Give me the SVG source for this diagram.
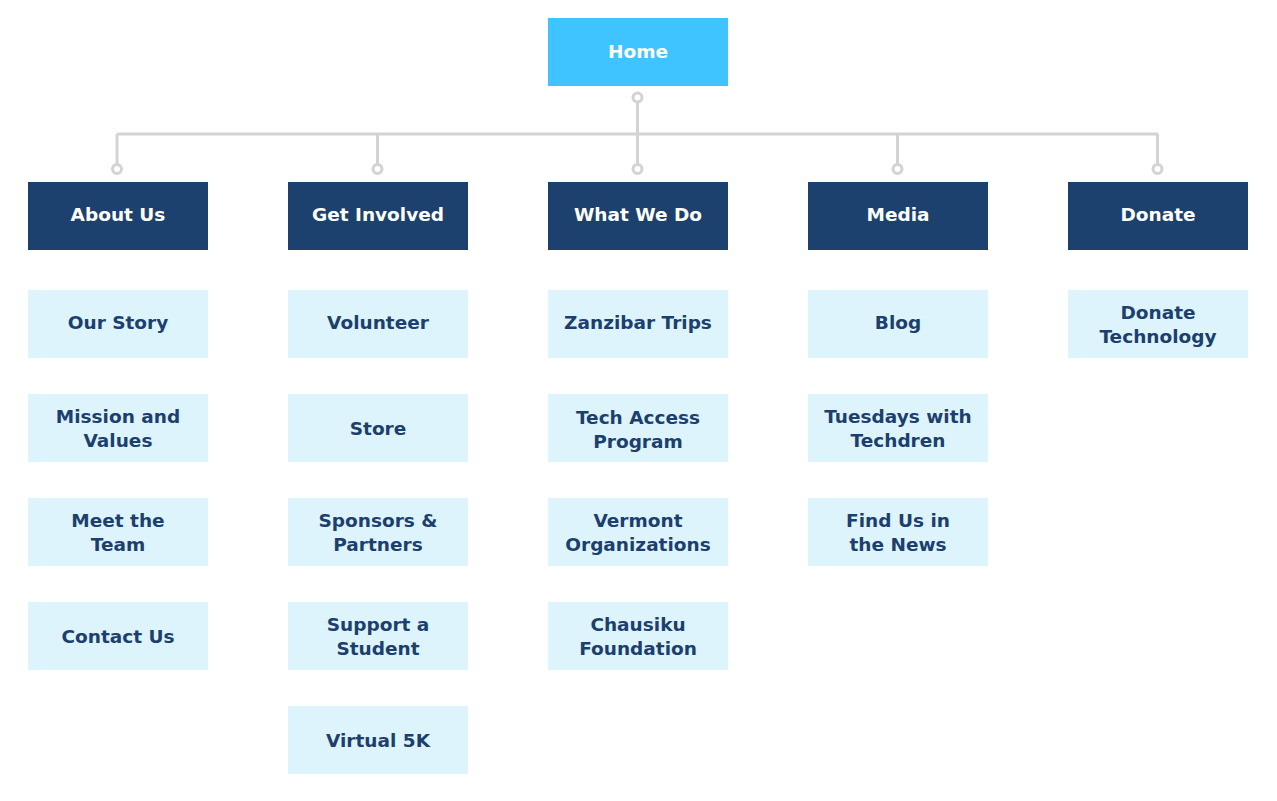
<svg xmlns="http://www.w3.org/2000/svg" width="1277" height="801" viewBox="0 0 1277 801">
<style>
.home{fill:#40C4FF}
.cat{fill:#1C416E}
.sub{fill:#DDF4FD}
text{font-family:"DejaVu Sans","Liberation Sans",sans-serif;font-weight:bold;font-size:18.5px;text-anchor:middle}
.w{fill:#FFFFFF}
.d{fill:#1C3F6E}
.ln{stroke:#D3D3D3;stroke-width:3;fill:none}
.dot{stroke:#D3D3D3;stroke-width:3;fill:#FFFFFF}
</style>
<rect width="1277" height="801" fill="#FFFFFF"/>
<g id="connectors">
<path class="ln" d="M637.5 101V134M117 134H1158M117 134V165M377.5 134V165M637.5 134V165M897.5 134V165M1157.5 134V165"/>
<circle class="dot" cx="637.5" cy="97.5" r="4.5"/>
<circle class="dot" cx="117" cy="169" r="4.5"/>
<circle class="dot" cx="377.5" cy="169" r="4.5"/>
<circle class="dot" cx="637.5" cy="169" r="4.5"/>
<circle class="dot" cx="897.5" cy="169" r="4.5"/>
<circle class="dot" cx="1157.5" cy="169" r="4.5"/>
</g>
<g id="home"><rect class="home" x="548" y="18" width="180" height="68"/><text class="w" x="638" y="58">Home</text></g>
<g id="about-us"><rect class="cat" x="28" y="182" width="180" height="68"/><text class="w" x="118" y="221">About Us</text></g>
<g id="get-involved"><rect class="cat" x="288" y="182" width="180" height="68"/><text class="w" x="378" y="221">Get Involved</text></g>
<g id="what-we-do"><rect class="cat" x="548" y="182" width="180" height="68"/><text class="w" x="638" y="221">What We Do</text></g>
<g id="media"><rect class="cat" x="808" y="182" width="180" height="68"/><text class="w" x="898" y="221">Media</text></g>
<g id="donate"><rect class="cat" x="1068" y="182" width="180" height="68"/><text class="w" x="1158" y="221">Donate</text></g>

<g id="our-story"><rect class="sub" x="28" y="290" width="180" height="68"/><text class="d" x="118" y="329">Our Story</text></g>
<g id="mission-values"><rect class="sub" x="28" y="394" width="180" height="68"/><text class="d" x="118" y="423">Mission and</text><text class="d" x="118" y="447">Values</text></g>
<g id="meet-team"><rect class="sub" x="28" y="498" width="180" height="68"/><text class="d" x="118" y="527">Meet the</text><text class="d" x="118" y="551">Team</text></g>
<g id="contact-us"><rect class="sub" x="28" y="602" width="180" height="68"/><text class="d" x="118" y="643">Contact Us</text></g>

<g id="volunteer"><rect class="sub" x="288" y="290" width="180" height="68"/><text class="d" x="378" y="329">Volunteer</text></g>
<g id="store"><rect class="sub" x="288" y="394" width="180" height="68"/><text class="d" x="378" y="435">Store</text></g>
<g id="sponsors"><rect class="sub" x="288" y="498" width="180" height="68"/><text class="d" x="378" y="527">Sponsors &amp;</text><text class="d" x="378" y="551">Partners</text></g>
<g id="support-student"><rect class="sub" x="288" y="602" width="180" height="68"/><text class="d" x="378" y="631">Support a</text><text class="d" x="378" y="655">Student</text></g>
<g id="virtual-5k"><rect class="sub" x="288" y="706" width="180" height="68"/><text class="d" x="378" y="747">Virtual 5K</text></g>

<g id="zanzibar"><rect class="sub" x="548" y="290" width="180" height="68"/><text class="d" x="638" y="329">Zanzibar Trips</text></g>
<g id="tech-access"><rect class="sub" x="548" y="394" width="180" height="68"/><text class="d" x="638" y="424">Tech Access</text><text class="d" x="638" y="448">Program</text></g>
<g id="vermont"><rect class="sub" x="548" y="498" width="180" height="68"/><text class="d" x="638" y="527">Vermont</text><text class="d" x="638" y="551">Organizations</text></g>
<g id="chausiku"><rect class="sub" x="548" y="602" width="180" height="68"/><text class="d" x="638" y="631">Chausiku</text><text class="d" x="638" y="655">Foundation</text></g>

<g id="blog"><rect class="sub" x="808" y="290" width="180" height="68"/><text class="d" x="898" y="329">Blog</text></g>
<g id="tuesdays"><rect class="sub" x="808" y="394" width="180" height="68"/><text class="d" x="898" y="423">Tuesdays with</text><text class="d" x="898" y="447">Techdren</text></g>
<g id="find-us"><rect class="sub" x="808" y="498" width="180" height="68"/><text class="d" x="898" y="527">Find Us in</text><text class="d" x="898" y="551">the News</text></g>

<g id="donate-tech"><rect class="sub" x="1068" y="290" width="180" height="68"/><text class="d" x="1158" y="319">Donate</text><text class="d" x="1158" y="343">Technology</text></g>
</svg>
